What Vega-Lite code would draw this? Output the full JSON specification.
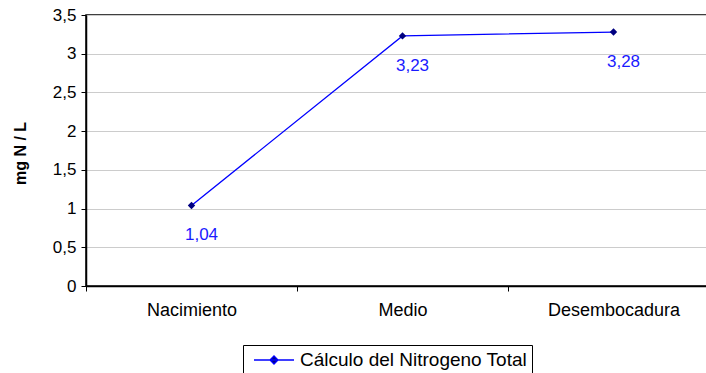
{
  "$schema": "https://vega.github.io/schema/vega-lite/v6.json",
  "width": 633,
  "height": 271,
  "autosize": {"type": "none"},
  "padding": {"left": 86, "top": 15, "right": 0, "bottom": 87},
  "config": {
    "locale": {"number": {"decimal": ",", "thousands": ".", "grouping": [3], "currency": ["", ""]}},
    "font": "Liberation Sans",
    "view": {"stroke": "black", "strokeWidth": 1.5},
    "axis": {"domainColor": "black", "domainWidth": 1.5, "tickColor": "black", "labelColor": "black", "titleColor": "black"}
  },
  "data": {
    "values": [
      {"tramo": "Nacimiento", "valor": 1.04},
      {"tramo": "Medio", "valor": 3.23},
      {"tramo": "Desembocadura", "valor": 3.28}
    ]
  },
  "encoding": {
    "x": {
      "field": "tramo",
      "type": "nominal",
      "sort": null,
      "scale": {"type": "band", "paddingInner": 0, "paddingOuter": 0},
      "axis": {
        "title": null,
        "labelAngle": 0,
        "labelFontSize": 18,
        "labelPadding": 10,
        "tickBand": "extent",
        "tickSize": 5,
        "grid": false
      }
    },
    "y": {
      "field": "valor",
      "type": "quantitative",
      "scale": {"domain": [0, 3.5]},
      "axis": {
        "title": "mg N / L",
        "titleFontWeight": "bold",
        "titleFontSize": 16,
        "titleAngle": -90,
        "titleX": -66,
        "titleY": 138,
        "titleAlign": "center",
        "titleBaseline": "middle",
        "values": [0, 0.5, 1, 1.5, 2, 2.5, 3, 3.5],
        "format": "~g",
        "labelFontSize": 17,
        "labelPadding": 5,
        "tickSize": 5,
        "gridColor": "#cccccc",
        "gridWidth": 1
      }
    }
  },
  "layer": [
    {
      "mark": {"type": "line", "strokeWidth": 1.3},
      "encoding": {
        "color": {
          "datum": "Cálculo del Nitrogeno Total",
          "type": "nominal",
          "scale": {"range": ["#0000FF"]},
          "legend": {
            "title": null,
            "orient": "none",
            "legendX": 157,
            "legendY": 330,
            "padding": 4,
            "strokeColor": "black",
            "fillColor": "white",
            "labelFontSize": 19,
            "labelColor": "black",
            "labelLimit": 400,
            "labelOffset": 15,
            "symbolOffset": 16,
            "symbolType": "M-2,0H2M-0.4,0L0,-0.4L0.4,0L0,0.4Z",
            "symbolSize": 400,
            "symbolStrokeWidth": 1.3,
            "symbolStrokeColor": "#0000FF",
            "symbolFillColor": "#000080"
          }
        }
      }
    },
    {
      "mark": {"type": "point", "shape": "diamond", "filled": true, "color": "#000080", "opacity": 1, "size": 55}
    },
    {
      "mark": {"type": "text", "dx": 10, "dy": 30, "fontSize": 17, "color": "#1a1aff"},
      "encoding": {"text": {"field": "valor", "type": "quantitative", "format": ".2f"}}
    }
  ]
}
